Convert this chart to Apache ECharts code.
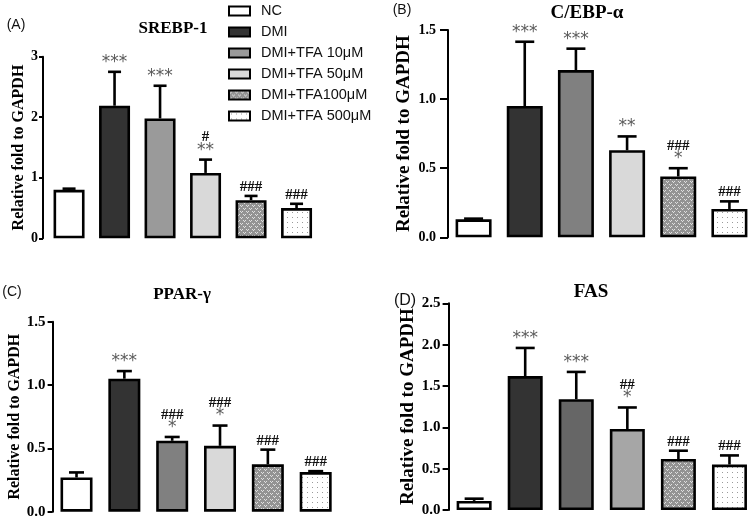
<!DOCTYPE html>
<html><head><meta charset="utf-8">
<script src="https://cdn.jsdelivr.net/npm/echarts@6/dist/echarts.min.js"></script>
<style>html,body{margin:0;padding:0;background:#fff}#c{width:755px;height:522px}</style>
</head><body><div id="c"></div>
<script>
// ---- data ----
const groups = ['NC', 'DMI', 'DMI+TFA 10μM', 'DMI+TFA 50μM', 'DMI+TFA100μM', 'DMI+TFA 500μM'];

const srebpMean = [0.80, 2.19, 1.98, 1.08, 0.63, 0.50];
const srebpErr  = [0.02, 0.56, 0.54, 0.22, 0.07, 0.07];
const srebpSig  = ['', '***', '***', '#\n**', '###', '###'];

const cebpMean = [0.13, 0.95, 1.21, 0.63, 0.44, 0.205];
const cebpErr  = [0.005, 0.465, 0.155, 0.10, 0.06, 0.055];
const cebpSig  = ['', '***', '***', '**', '###\n*', '###'];

const pparMean = [0.27, 1.05, 0.56, 0.52, 0.374, 0.313];
const pparErr  = [0.04, 0.06, 0.03, 0.16, 0.116, 0.007];
const pparSig  = ['', '***', '###\n*', '###\n*', '###', '###'];

const fasMean = [0.11, 1.62, 1.34, 0.98, 0.617, 0.55];
const fasErr  = [0.027, 0.34, 0.33, 0.26, 0.10, 0.11];
const fasSig  = ['', '***', '***', '##\n*', '###', '###'];

const panelTitles = ['SREBP-1', 'C/EBP-α', 'PPAR-γ', 'FAS'];
const panelLetters = ['(A)', '(B)', '(C)', '(D)'];
const yMax  = [3, 1.5, 1.5, 2.5];
const yStep = [1, 0.5, 0.5, 0.5];
const yDecimals = [0, 1, 1, 1];
const yName = 'Relative fold to GAPDH';

// ---- styles ----
function makePattern(kind) {
  const c = document.createElement('canvas');
  const ctx = c.getContext('2d');
  if (kind === 'mesh') {
    c.width = 6; c.height = 6;
    ctx.fillStyle = '#939393'; ctx.fillRect(0, 0, 6, 6);
    ctx.fillStyle = '#e0e0e0';
    ctx.fillRect(0, 1, 1, 1); ctx.fillRect(2, 1, 1, 1); ctx.fillRect(1, 2, 1, 1);
    ctx.fillRect(3, 4, 1, 1); ctx.fillRect(5, 4, 1, 1); ctx.fillRect(4, 5, 1, 1);
  } else {
    c.width = 5; c.height = 5;
    ctx.fillStyle = '#ffffff'; ctx.fillRect(0, 0, 5, 5);
    ctx.fillStyle = '#9a9a9a'; ctx.fillRect(2, 2, 1, 1);
  }
  return { image: c, repeat: 'repeat' };
}
const mesh = makePattern('mesh');
const dots = makePattern('dots');

const panels = [
  { mean: srebpMean, err: srebpErr, sig: srebpSig,
    grid: { left: 46.3, top: 56.7, width: 273, height: 181.6 }, off: 3.3,
    barW: 31, cap: 13, tickLen: 4, lblMargin: 5, lblSize: 14, nameSize: 16, nameGap: 16,
    colors: ['#ffffff', '#333333', '#9a9a9a', '#d9d9d9', mesh, dots],
    title: [173, 29, 17], letter: [16, 25.5, 14] },
  { mean: cebpMean, err: cebpErr, sig: cebpSig,
    grid: { left: 448, top: 30, width: 311, height: 207.3 }, off: 0,
    barW: 36, cap: 19, tickLen: 8, lblMargin: 12, lblSize: 14, nameSize: 19, nameGap: 34,
    colors: ['#ffffff', '#333333', '#808080', '#d9d9d9', mesh, dots],
    title: [587, 13, 19], letter: [402, 10, 14] },
  { mean: pparMean, err: pparErr, sig: pparSig,
    grid: { left: 52.6, top: 321.7, width: 287, height: 190 }, off: 0,
    barW: 32, cap: 15, tickLen: 5, lblMargin: 7, lblSize: 15, nameSize: 16, nameGap: 25,
    colors: ['#ffffff', '#333333', '#808080', '#d9d9d9', mesh, dots],
    title: [182, 295, 17], letter: [12, 292, 14] },
  { mean: fasMean, err: fasErr, sig: fasSig,
    grid: { left: 448.6, top: 303.3, width: 310, height: 206.7 }, off: 0,
    barW: 35, cap: 19, tickLen: 6, lblMargin: 8, lblSize: 15, nameSize: 19, nameGap: 28,
    colors: ['#ffffff', '#333333', '#666666', '#a6a6a6', mesh, dots],
    title: [591, 292, 19], letter: [405, 301, 16] }
];

const serif = 'Liberation Serif';
const grids = [], xAxes = [], yAxes = [], series = [], graphics = [];

panels.forEach((p, gi) => {
  grids.push(Object.assign({ containLabel: false }, p.grid));
  xAxes.push({ type: 'category', gridIndex: gi, data: groups, show: false });
  yAxes.push({
    type: 'value', gridIndex: gi, min: 0, max: yMax[gi], interval: yStep[gi], offset: p.off,
    axisLine: { show: true, lineStyle: { color: '#000', width: 2 } },
    axisTick: { show: true, length: p.tickLen, lineStyle: { color: '#000', width: 2 } },
    splitLine: { show: false },
    axisLabel: { fontFamily: serif, fontWeight: 'bold', fontSize: p.lblSize, color: '#000',
      margin: p.lblMargin, formatter: v => v.toFixed(yDecimals[gi]) },
    name: yName, nameLocation: 'middle', nameGap: p.nameGap,
    nameTextStyle: { fontFamily: serif, fontWeight: 'bold', fontSize: p.nameSize, color: '#000' }
  });
  groups.forEach((g, k) => {
    series.push({
      type: 'bar', name: g, xAxisIndex: gi, yAxisIndex: gi,
      barWidth: p.barW, barGap: '-100%',
      data: p.mean.map((v, i) => (i === k ? v : '-')),
      itemStyle: { color: p.colors[k], borderColor: '#000', borderWidth: 2.6 },
      silent: true
    });
  });
  series.push({
    type: 'custom', xAxisIndex: gi, yAxisIndex: gi, z: 5, silent: true,
    data: p.mean.map((v, i) => [i, v, p.err[i]]),
    encode: { x: 0, y: 1 },
    renderItem: (params, api) => {
      const i = api.value(0), m = api.value(1), e = api.value(2);
      const base = api.coord([i, m]);
      const tip = api.coord([i, m + e]);
      const half = p.cap / 2;
      const children = [
        { type: 'line', shape: { x1: base[0], y1: base[1], x2: tip[0], y2: tip[1] },
          style: { stroke: '#000', lineWidth: 2.6 } },
        { type: 'line', shape: { x1: tip[0] - half, y1: tip[1], x2: tip[0] + half, y2: tip[1] },
          style: { stroke: '#000', lineWidth: 2.6 } }
      ];
      const s = p.sig[params.dataIndex];
      if (s) {
        const txt = s.split('\n').map(line => (line.indexOf('*') >= 0 ? '{s|' + line + '}' : '{h|' + line + '}')).join('\n');
        children.push({
          type: 'text', x: tip[0], y: tip[1] - 3,
          style: {
            text: txt, align: 'center', verticalAlign: 'bottom',
            rich: {
              s: { fontFamily: 'DejaVu Sans', fontSize: 17, fill: '#5a5a5a', color: '#5a5a5a', lineHeight: 13, align: 'center' },
              h: { fontFamily: serif, fontWeight: 'bold', fontSize: 15, fill: '#111', color: '#111', lineHeight: 12, align: 'center' }
            }
          }
        });
      }
      return { type: 'group', children };
    }
  });
  graphics.push({
    type: 'text', x: p.title[0], y: p.title[1],
    style: { text: panelTitles[gi], font: 'bold ' + p.title[2] + 'px "' + serif + '"', fill: '#000',
      align: 'center', verticalAlign: 'middle', textAlign: 'center', textVerticalAlign: 'middle' }
  });
  graphics.push({
    type: 'text', x: p.letter[0], y: p.letter[1],
    style: { text: panelLetters[gi], font: p.letter[2] + 'px "Liberation Sans"', fill: '#111',
      align: 'center', verticalAlign: 'middle', textAlign: 'center', textVerticalAlign: 'middle' }
  });
});

const chart = echarts.init(document.getElementById('c'), null, { renderer: 'canvas' });
chart.setOption({
  animation: false,
  backgroundColor: '#fff',
  grid: grids, xAxis: xAxes, yAxis: yAxes, series: series,
  legend: {
    orient: 'vertical', left: 228, top: 3.5, padding: 0, icon: 'rect',
    itemWidth: 21, itemHeight: 9, itemGap: 6, selectedMode: false,
    data: groups,
    itemStyle: { borderColor: '#000', borderWidth: 2 },
    textStyle: { fontFamily: 'Liberation Sans', fontSize: 14.5, color: '#111', padding: [0, 0, 0, 6] }
  },
  graphic: graphics
});
</script>
</body></html>
